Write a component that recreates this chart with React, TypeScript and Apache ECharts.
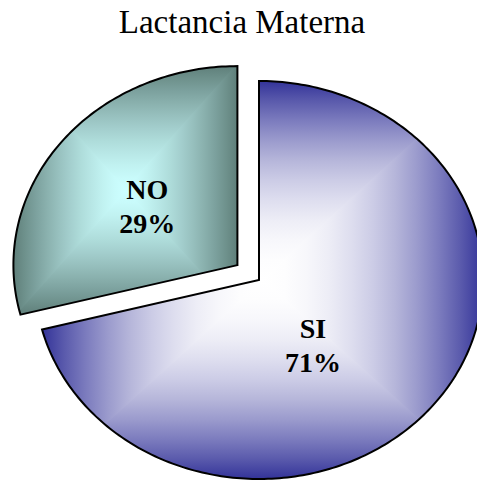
import { useEffect, useRef } from "react";
import * as echarts from "echarts";

// ---- data ----
const categories: string[] = ["SI", "NO"];
const values: number[] = [71, 29];
const chartTitle = "Lactancia Materna";

// ---- styling ----
const sliceColors = [
  { light: "#ffffff", dark: "#333399", falloff: 2 },
  { light: "#ccffff", dark: "#5f7f7a", falloff: 1.4 },
];
const explodeRatio = [0, 0.122];
// label anchor relative to each slice centre, in fractions of the radii
const labelAnchor: [number, number][] = [
  [0.241, 0.327],
  [-0.402, -0.296],
];
const PIE_CX = 259;
const PIE_CY = 280;
const PIE_RX = 224;
const PIE_RY = 199;
const SERIF = '"Liberation Serif", "Times New Roman", Times, serif';

type Pt = [number, number];

// Sutherland–Hodgman clipping of any polygon against a convex one
function clipPolygon(subject: Pt[], clip: Pt[]): Pt[] {
  let area = 0;
  for (let i = 0; i < clip.length; i++) {
    const p = clip[i];
    const q = clip[(i + 1) % clip.length];
    area += p[0] * q[1] - q[0] * p[1];
  }
  const sgn = area > 0 ? 1 : -1;
  let output = subject;
  for (let i = 0; i < clip.length; i++) {
    const a = clip[i];
    const b = clip[(i + 1) % clip.length];
    const inside = (p: Pt) =>
      sgn * ((b[0] - a[0]) * (p[1] - a[1]) - (b[1] - a[1]) * (p[0] - a[0])) >= 0;
    const intersect = (p: Pt, q: Pt): Pt => {
      const den = (p[0] - q[0]) * (a[1] - b[1]) - (p[1] - q[1]) * (a[0] - b[0]);
      const t = ((p[0] - a[0]) * (a[1] - b[1]) - (p[1] - a[1]) * (a[0] - b[0])) / den;
      return [p[0] + t * (q[0] - p[0]), p[1] + t * (q[1] - p[1])];
    };
    const input = output;
    output = [];
    if (!input.length) break;
    for (let j = 0; j < input.length; j++) {
      const cur = input[j];
      const prev = input[(j + input.length - 1) % input.length];
      const cIn = inside(cur);
      const pIn = inside(prev);
      if (cIn) {
        if (!pIn) output.push(intersect(prev, cur));
        output.push(cur);
      } else if (pIn) {
        output.push(intersect(prev, cur));
      }
    }
  }
  return output;
}

function hexToRgb(h: string): number[] {
  const n = parseInt(h.slice(1), 16);
  return [(n >> 16) & 255, (n >> 8) & 255, n & 255];
}

function mix(light: string, dark: string, w: number): string {
  const a = hexToRgb(light);
  const b = hexToRgb(dark);
  const c = a.map((v, k) => Math.round(v * w + b[k] * (1 - w)));
  return `rgb(${c[0]},${c[1]},${c[2]})`;
}

// light centre fading to the dark rim
function linear(
  x: number, y: number, x2: number, y2: number,
  light: string, dark: string, falloff: number
) {
  const stops = [];
  for (let k = 0; k <= 10; k++) {
    const t = k / 10;
    stops.push({ offset: t, color: mix(light, dark, 1 - Math.pow(t, falloff)) });
  }
  return new echarts.graphic.LinearGradient(x, y, x2, y2, stops, true);
}

export default function App() {
  const ref = useRef<HTMLDivElement>(null);

  useEffect(() => {
    if (!ref.current) return;
    const chart = echarts.init(ref.current, undefined, { renderer: "svg" });
    const total = values.reduce((s, v) => s + v, 0);

    const renderItem = (params: any, api: any) => {
      const i = params.dataIndex as number;
      const v = api.value(0) as number;
      const before = values.slice(0, i).reduce((s, x) => s + x, 0);
      const a0 = 90 - (before / total) * 360;
      const a1 = 90 - ((before + v) / total) * 360;
      const mid = (((a0 + a1) / 2) * Math.PI) / 180;
      const e = explodeRatio[i] || 0;
      const cx = PIE_CX + e * PIE_RX * Math.cos(mid);
      const cy = PIE_CY - e * PIE_RY * Math.sin(mid);

      const pts: Pt[] = [[cx, cy]];
      const steps = Math.max(2, Math.ceil(Math.abs(a0 - a1)));
      for (let k = 0; k <= steps; k++) {
        const a = ((a0 + ((a1 - a0) * k) / steps) * Math.PI) / 180;
        pts.push([cx + PIE_RX * Math.cos(a), cy - PIE_RY * Math.sin(a)]);
      }

      let minX = Infinity, maxX = -Infinity, minY = Infinity, maxY = -Infinity;
      for (const p of pts) {
        minX = Math.min(minX, p[0]);
        maxX = Math.max(maxX, p[0]);
        minY = Math.min(minY, p[1]);
        maxY = Math.max(maxY, p[1]);
      }
      const gx = (minX + maxX) / 2;
      const gy = (minY + maxY) / 2;
      const { light, dark, falloff } = sliceColors[i];
      const ov = 3;

      // four "from centre" gradient panels, each clipped to the slice
      const panels: { tri: Pt[]; grad: any }[] = [
        {
          tri: [[gx, gy + 1.5], [minX - ov, minY], [maxX + ov, minY]],
          grad: linear(gx, gy, gx, minY, light, dark, falloff),
        },
        {
          tri: [[gx - 1.5, gy], [maxX, minY - ov], [maxX, maxY + ov]],
          grad: linear(gx, gy, maxX, gy, light, dark, falloff),
        },
        {
          tri: [[gx, gy - 1.5], [maxX + ov, maxY], [minX - ov, maxY]],
          grad: linear(gx, gy, gx, maxY, light, dark, falloff),
        },
        {
          tri: [[gx + 1.5, gy], [minX, maxY + ov], [minX, minY - ov]],
          grad: linear(gx, gy, minX, gy, light, dark, falloff),
        },
      ];

      const children: any[] = [];
      for (const pnl of panels) {
        const poly = clipPolygon(pts, pnl.tri);
        if (poly.length < 3) continue;
        children.push({
          type: "polygon",
          shape: { points: poly },
          style: { fill: pnl.grad, stroke: null },
        });
      }
      children.push({
        type: "polygon",
        shape: { points: pts },
        style: { fill: "none", stroke: "#000", lineWidth: 2, lineJoin: "miter" },
      });

      const pct = Math.round((v / total) * 100);
      const la = labelAnchor[i];
      children.push({
        type: "text",
        x: cx + la[0] * PIE_RX,
        y: cy + la[1] * PIE_RY,
        style: {
          text: `${categories[i]}\n${pct}%`,
          font: `bold 28px ${SERIF}`,
          fill: "#000",
          align: "center",
          verticalAlign: "middle",
          textAlign: "center",
          textVerticalAlign: "middle",
          lineHeight: 34,
        },
      });

      return { type: "group", children };
    };

    chart.setOption({
      animation: false,
      backgroundColor: "#ffffff",
      graphic: [
        {
          type: "text",
          x: 242,
          y: 22,
          style: {
            text: chartTitle,
            font: `33px ${SERIF}`,
            fill: "#000",
            textAlign: "center",
            textVerticalAlign: "middle",
          },
        },
      ],
      series: [
        {
          type: "custom",
          coordinateSystem: "none",
          data: values.map((v, i) => ({ name: categories[i], value: [v] })),
          renderItem,
        },
      ],
    });

    return () => chart.dispose();
  }, []);

  return (
    <div
      ref={ref}
      style={{ position: "fixed", left: 0, top: 0, width: 477, height: 480 }}
    />
  );
}
